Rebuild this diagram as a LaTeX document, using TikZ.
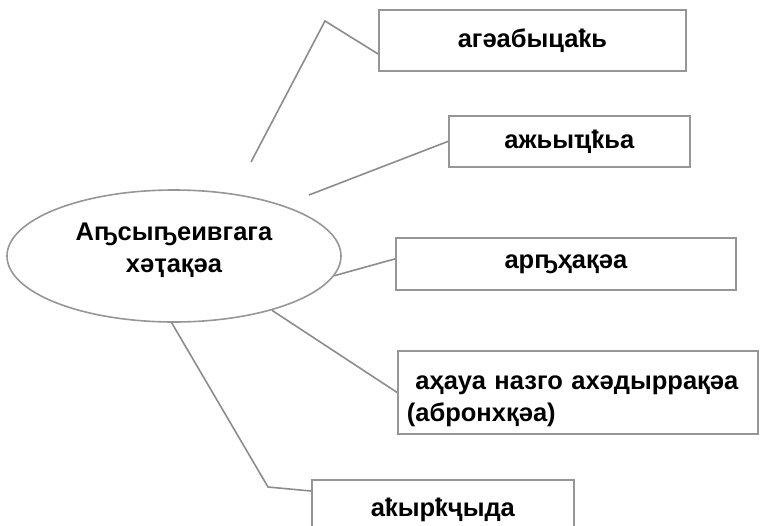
\documentclass[tikz,border=0pt]{standalone}
\usepackage{fontspec}
\setmainfont{Liberation Sans}
\usetikzlibrary{shapes.geometric}
\definecolor{linegray}{RGB}{140,140,140}
\definecolor{boxgray}{RGB}{150,150,150}
\begin{document}
\begin{tikzpicture}[x=1pt,y=-1pt,
  conn/.style={draw=linegray, line width=1.6pt, line join=miter},
  txt/.style={font=\fontsize{25.5}{32}\selectfont\bfseries},
  box/.style={draw=boxgray, line width=1.8pt, anchor=north west, inner sep=0pt, txt},
]
\useasboundingbox (0,0) rectangle (760,525);
\node[ellipse, draw=boxgray, line width=1.6pt, minimum width=334pt, minimum height=132pt,
      inner sep=0pt, align=center, txt] (el) at (174,256) {Аҧсыҧеивгага\\хәҭақәа\rule[-17pt]{0pt}{1pt}};
\node[box, minimum width=307pt, minimum height=61pt] (b1) at (378,9) {\raisebox{3pt}{агәабыцаҟь}};
\node[box, minimum width=241pt, minimum height=51pt] (b2) at (448,115) {ажьыҵҟьа};
\node[box, minimum width=340pt, minimum height=52pt] (b3) at (395,237) {арҧҳақәа};
\node[box, minimum width=360pt, minimum height=83pt, inner xsep=9pt, text width=342pt, align=left] (b4) at (397,350)
  {\rule{0pt}{31pt}\ аҳауа назго ахәдыррақәа\\(абронхқәа)};
\node[box, minimum width=262pt, minimum height=60pt] (b5) at (311,479) {\raisebox{2pt}{аҟырҟҷыда}};
\coordinate (p1) at (251,162);
\coordinate (k1) at (325,21);
\coordinate (p2) at (309,195);
\coordinate (k5) at (268,487);
\draw[conn] (p1) -- (k1) -- ([yshift=-13.5pt]b1.west);
\draw[conn] (p2) -- (b2.west);
\draw[conn] (el.-7) -- ([yshift=5pt]b3.west);
\draw[conn] (el.-29) -- (b4.west);
\draw[conn] (el.-92) -- (k5) -- ([yshift=-12pt]b5.north west);
\end{tikzpicture}
\end{document}
